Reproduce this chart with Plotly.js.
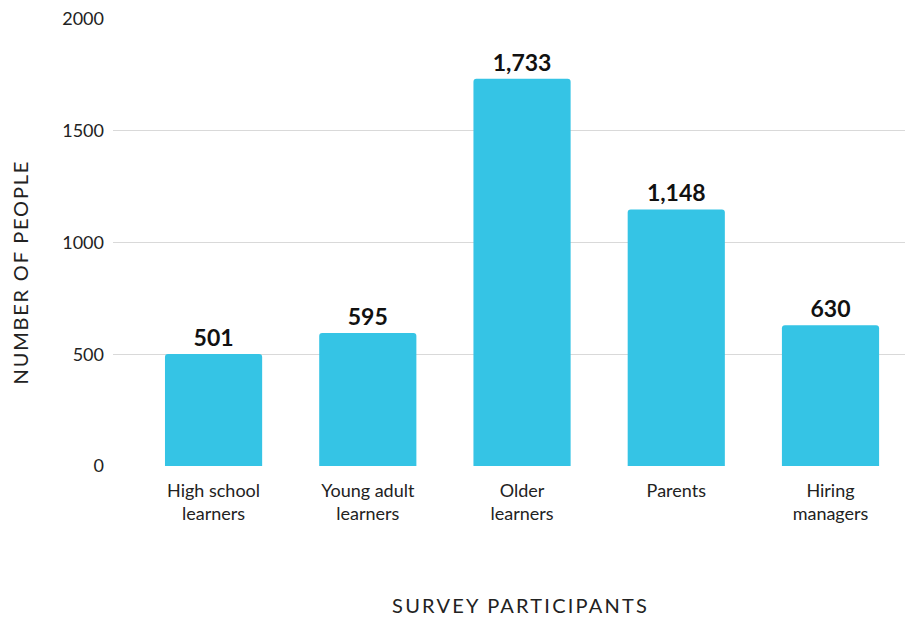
<!DOCTYPE html>
<html><head><meta charset="utf-8">
<script src="https://cdn.plot.ly/plotly-3.0.1.min.js"></script>
<style>html,body{margin:0;padding:0;background:#fff}#chart{width:905px;height:621px}
.ls-y text{letter-spacing:1.8px}.ls-x text{letter-spacing:2.2px}</style>
</head><body><div id="chart"></div>
<script>
const categories = ["High school<br>learners", "Young adult<br>learners", "Older<br>learners", "Parents", "Hiring<br>managers"];
const counts = [501, 595, 1733, 1148, 630];
const yTicks = [0, 500, 1000, 1500, 2000];

const FONT = "Lato, 'Open Sans', sans-serif";
const W = 905, H = 621, L = 113, R = 0, T = 19, B = 155;
const pw = W - L - R, ph = H - T - B;
const px = v => (v - L) / pw;
const py = v => (H - B - v) / ph;

const trace = {
  type: 'bar',
  x: categories.map((c, i) => i),
  y: counts,
  marker: {color: '#35C4E5', cornerradius: 3},
  width: 0.63,
  texttemplate: '%{y:,.0f}',
  textposition: 'outside',
  cliponaxis: false,
  textfont: {family: FONT, size: 23, color: '#111', weight: 'bold'},
  hoverinfo: 'skip'
};

const layout = {
  width: W, height: H,
  margin: {l: L, r: R, t: T, b: B},
  paper_bgcolor: '#fff', plot_bgcolor: '#fff',
  showlegend: false,
  font: {family: FONT, color: '#222'},
  xaxis: {
    range: [-0.652, 4.483],
    tickmode: 'array',
    tickvals: categories.map((c, i) => i),
    ticktext: categories,
    tickfont: {family: FONT, size: 18, color: '#222'},
    ticklabelstandoff: 12,
    showgrid: false, zeroline: false, showline: false, ticks: '',
    fixedrange: true
  },
  yaxis: {
    range: [0, 2000],
    tickmode: 'array',
    tickvals: yTicks,
    ticktext: yTicks.map(String),
    tickfont: {family: FONT, size: 18, color: '#222'},
    showgrid: true, gridcolor: '#d9d9d9', gridwidth: 1,
    zeroline: false, showline: false, ticks: '',
    ticklabelstandoff: 8,
    fixedrange: true
  },
  annotations: [
    {text: 'NUMBER OF PEOPLE', xref: 'paper', yref: 'paper', x: px(20), y: py(272),
     textangle: -90, showarrow: false, xanchor: 'center', yanchor: 'middle',
     font: {family: FONT, size: 20, color: '#222'}},
    {text: 'SURVEY PARTICIPANTS', xref: 'paper', yref: 'paper', x: px(520), y: py(605),
     showarrow: false, xanchor: 'center', yanchor: 'middle',
     font: {family: FONT, size: 20, color: '#222'}}
  ]
};

Plotly.newPlot('chart', [trace], layout, {staticPlot: true, displayModeBar: false}).then(() => {
  const anns = document.querySelectorAll('.annotation');
  if (anns[0]) anns[0].classList.add('ls-y');
  if (anns[1]) anns[1].classList.add('ls-x');
});
</script></body></html>
